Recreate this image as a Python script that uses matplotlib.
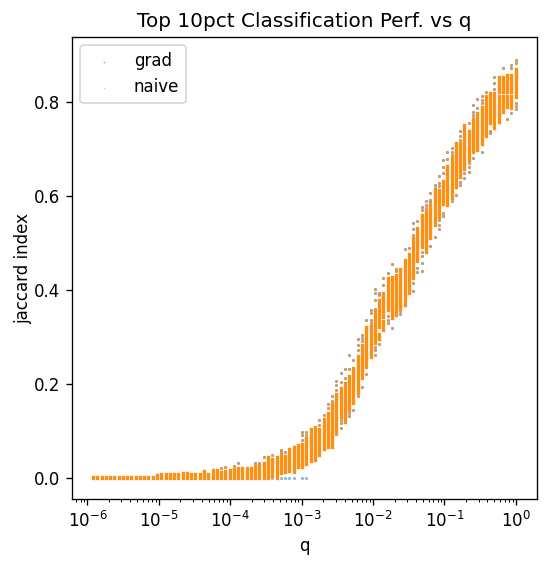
import matplotlib
matplotlib.use("Agg")
import matplotlib.pyplot as plt
import numpy as np

TITLE = "Top 10pct Classification Perf. vs q"

q_log10 = [-5.917,-5.861,-5.791,-5.739,-5.683,-5.623,-5.553,-5.497,-5.441,-5.385,
 -5.315,-5.259,-5.203,-5.147,-5.077,-5.021,-4.965,-4.895,-4.839,-4.783,
 -4.727,-4.661,-4.605,-4.549,-4.493,-4.419,-4.363,-4.307,-4.237,-4.181,
 -4.125,-4.069,-3.999,-3.943,-3.887,-3.831,-3.765,-3.709,-3.653,-3.592,
 -3.522,-3.466,-3.410,-3.340,-3.284,-3.228,-3.172,-3.102,-3.046,-2.990,
 -2.934,-2.864,-2.808,-2.752,-2.682,-2.626,-2.570,-2.514,-2.444,-2.388,
 -2.332,-2.276,-2.206,-2.150,-2.094,-2.024,-1.968,-1.912,-1.856,-1.786,
 -1.730,-1.674,-1.618,-1.548,-1.492,-1.436,-1.380,-1.310,-1.254,-1.198,
 -1.128,-1.072,-1.016,-0.960,-0.890,-0.834,-0.778,-0.722,-0.652,-0.596,
 -0.540,-0.470,-0.414,-0.358,-0.302,-0.232,-0.176,-0.120,-0.064,0.0]

body_hi = [.003,.003,.003,.003,.003,.003,.003,.003,.002,.003,
 .003,.003,.003,.003,.003,.006,.008,.008,.008,.008,
 .008,.011,.011,.008,.008,.008,.015,.008,.016,.016,
 .013,.015,.016,.019,.022,.022,.022,.022,.025,.028,
 .033,.045,.041,.045,.052,.047,.061,.066,.070,.072,
 .086,.104,.109,.104,.126,.138,.158,.178,.191,.203,
 .217,.235,.260,.284,.321,.323,.355,.380,.394,.425,
 .427,.433,.446,.465,.476,.510,.533,.561,.568,.582,
 .614,.614,.632,.664,.682,.713,.713,.751,.738,.763,
 .777,.791,.813,.820,.820,.813,.813,.813,.813,.870]

body_lo = [0,0,0,0,0,0,0,0,0,0,
 0,0,0,0,0,0,0,0,0,0,
 0,0,0,0,0,0,0,0,0,0,
 0,0,0,0,0,0,0,0,0,0,
 0,0,.005,0,.010,.012,.015,.012,.024,.024,
 .029,.036,.038,.049,.062,.067,.091,.095,.130,.120,
 .145,.159,.180,.212,.237,.258,.287,.322,.343,.357,
 .340,.347,.361,.368,.393,.425,.462,.492,.482,.510,
 .538,.556,.584,.581,.596,.620,.641,.659,.677,.694,
 .698,.712,.728,.755,.745,.758,.779,.790,.787,.811]

extra_q_log10 = [-2.570,-1.912,-1.856,-0.232,-0.176,-0.120,-0.064]
extra_lo = [.067,.296,.315,.822,.822,.822,.822]
extra_hi = [.086,.307,.334,.853,.853,.859,.859]

point_q_log10 = [-4.125,-4.069,-3.943,-3.887,-3.653,-3.592,-3.522,-3.410,-3.284,-3.284,
 -3.228,-2.990,-2.990,-2.990,-2.934,-2.934,-2.752,-2.752,-2.682,-2.626,
 -2.626,-2.570,-2.570,-2.514,-2.514,-2.514,-2.514,-2.444,-2.444,-2.444,
 -2.444,-2.444,-2.388,-2.388,-2.332,-2.332,-2.332,-2.332,-2.276,-2.276,
 -2.206,-2.206,-2.206,-2.206,-2.150,-2.150,-2.150,-2.150,-2.094,-2.094,
 -2.024,-2.024,-2.024,-2.024,-1.968,-1.968,-1.968,-1.968,-1.968,-1.968,
 -1.968,-1.912,-1.912,-1.912,-1.856,-1.856,-1.786,-1.786,-1.786,-1.786,
 -1.730,-1.730,-1.674,-1.674,-1.618,-1.618,-1.548,-1.492,-1.436,-1.436,
 -1.436,-1.436,-1.436,-1.380,-1.380,-1.380,-1.380,-1.310,-1.310,-1.310,
 -1.310,-1.310,-1.310,-1.254,-1.254,-1.254,-1.198,-1.198,-1.198,-1.198,
 -1.128,-1.128,-1.128,-1.072,-1.072,-1.072,-1.072,-1.072,-1.072,-1.016,
 -1.016,-1.016,-1.016,-1.016,-0.960,-0.960,-0.890,-0.890,-0.890,-0.890,
 -0.834,-0.778,-0.778,-0.778,-0.778,-0.778,-0.722,-0.722,-0.652,-0.652,
 -0.652,-0.652,-0.596,-0.596,-0.596,-0.596,-0.596,-0.540,-0.540,-0.470,
 -0.470,-0.470,-0.470,-0.414,-0.358,-0.358,-0.302,-0.302,-0.302,-0.232,
 -0.232,-0.176,-0.120,-0.064,-0.064,-0.064,0.0,0.0,0.0,0.0,0.0]
point_v = [.021,.023,.025,.033,.033,.033,.045,.048,.060,.055,
 .055,.080,.092,.099,.092,.099,.113,.124,.135,.149,
 .158,.165,.174,.188,.199,.207,.094,.223,.204,.124,
 .117,.106,.232,.214,.262,.232,.138,.133,.252,.145,
 .296,.284,.273,.174,.305,.298,.291,.194,.337,.222,
 .358,.351,.337,.330,.402,.394,.379,.360,.280,.272,
 .262,.394,.389,.285,.426,.411,.436,.344,.337,.330,
 .455,.319,.445,.440,.355,.350,.487,.489,.543,.530,
 .518,.415,.399,.548,.530,.447,.438,.578,.571,.482,
 .472,.457,.440,.589,.582,.574,.606,.592,.587,.493,
 .624,.617,.514,.642,.628,.621,.550,.539,.530,.677,
 .662,.649,.564,.557,.694,.679,.702,.695,.688,.589,
 .602,.739,.728,.720,.631,.624,.649,.638,.755,.670,
 .663,.652,.794,.780,.773,.766,.681,.806,.787,.813,
 .805,.798,.694,.821,.739,.734,.853,.840,.828,.845,
 .830,.874,.764,.879,.874,.777,.890,.884,.798,.792,.785]

naive_zero_q_log10 = [-3.522,-3.466,-3.340]
grad_only_zero_q_log10 = [-3.410,-3.284,-3.228,-3.172,-3.102,-2.990,-2.934]

x_ticks = [1e-6, 1e-5, 1e-4, 1e-3, 1e-2, 1e-1, 1e0]
y_ticks = [0.0, 0.2, 0.4, 0.6, 0.8]

BLUE = "#1f77b4"
ORANGE = "#ff7f0e"
BODY = "#fd9012"
S = 3.6
DPI = 120

fig = plt.figure(figsize=(548 / DPI, 564 / DPI), dpi=DPI)
ax = fig.add_axes([72 / 548, (564 - 499) / 564, 465 / 548, 462 / 564])

pq = 10.0 ** np.array(point_q_log10)
pv = np.array(point_v)
nz = 10.0 ** np.array(naive_zero_q_log10)
gz = 10.0 ** np.array(grad_only_zero_q_log10)

ax.scatter(np.concatenate([pq, nz, gz]),
           np.concatenate([pv, np.zeros(len(nz)), np.zeros(len(gz))]),
           s=S, c=BLUE, alpha=0.5, linewidths=0, label="grad", zorder=2)
ax.scatter(np.concatenate([pq, nz]),
           np.concatenate([pv, np.zeros(len(nz))]),
           s=S, c=ORANGE, alpha=0.5, linewidths=0, label="naive", zorder=3)

ax.vlines(10.0 ** np.array(q_log10), body_lo, body_hi, colors=BODY, linewidth=2.0,
          capstyle="projecting", zorder=4)
ax.vlines(10.0 ** np.array(extra_q_log10), extra_lo, extra_hi, colors=BODY, linewidth=2.0,
          capstyle="projecting", zorder=4)

ax.set_xscale("log")
ax.set_xlim(10 ** -6.216, 10 ** 0.296)
ax.set_ylim(-0.0447, 0.939)
ax.set_xticks(x_ticks)
ax.set_yticks(y_ticks)
ax.set_xlabel("q")
ax.set_ylabel("jaccard index", labelpad=1)
ax.set_title(TITLE)
ax.legend(loc="upper left", markerscale=0.55)

fig.savefig("out.png", dpi=DPI)
